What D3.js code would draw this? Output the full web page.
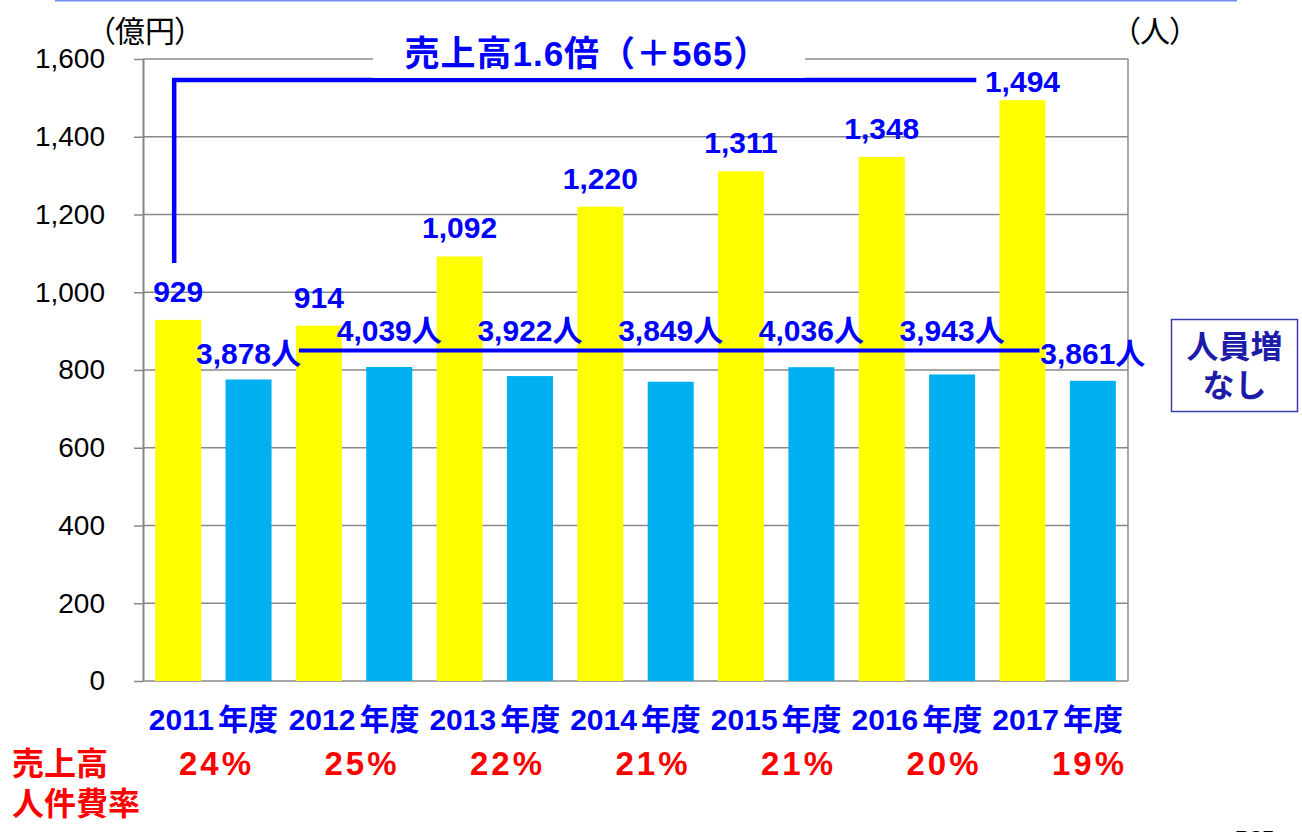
<!DOCTYPE html>
<html>
<head>
<meta charset="utf-8">
<script src="https://cdn.jsdelivr.net/npm/d3@7"></script>
<style>
  body { margin: 0; background: #fff; }
  text { font-family: "Liberation Sans", "Noto Sans CJK JP", sans-serif; }
</style>
</head>
<body>
<div class="container"></div>
<script>
// data
const years = ["2011", "2012", "2013", "2014", "2015", "2016", "2017"];
const sales = [929, 914, 1092, 1220, 1311, 1348, 1494]; // 億円
const staff = [3878, 4039, 3922, 3849, 4036, 3943, 3861]; // 人
const laborRatio = [24, 25, 22, 21, 21, 20, 19]; // 売上高人件費率 %
const salesTicks = [0, 200, 400, 600, 800, 1000, 1200, 1400, 1600];
const staffMax = 8000;

// annotation levels (in 億円 units)
const BRACKET_TOP = 1546;
const BRACKET_BOTTOM = 1075;
const STAFF_LINE = 850;

const WIDTH = 1302;
const HEIGHT = 832;
const MARGIN = { top: 59, right: 174, bottom: 151, left: 143 };
const BLUE = "#0000ff";
const GRID = "#888888";

const svg = d3
  .select(".container")
  .append("svg")
  .attr("width", WIDTH)
  .attr("height", HEIGHT)
  .attr("viewBox", [0, 0, WIDTH, HEIGHT]);

const x0 = d3
  .scaleBand()
  .domain(years)
  .range([MARGIN.left, WIDTH - MARGIN.right]);
const x1 = d3
  .scaleBand()
  .domain(["sales", "staff"])
  .range([0, x0.bandwidth()])
  .paddingInner(0.346)
  .paddingOuter(0.173);
const bw = x1.bandwidth();

const ySales = d3
  .scaleLinear()
  .domain([0, 1600])
  .range([HEIGHT - MARGIN.bottom, MARGIN.top]);
const yStaff = d3
  .scaleLinear()
  .domain([0, staffMax])
  .range([HEIGHT - MARGIN.bottom, MARGIN.top]);

const rows = years.map((year, i) => ({
  year,
  sales: sales[i],
  staff: staff[i],
  ratio: laborRatio[i],
}));

// top page rule
svg
  .append("rect")
  .attr("x", 55)
  .attr("y", 0)
  .attr("width", 1182)
  .attr("height", 1.5)
  .attr("fill", "#6d8ff3");

// gridlines + right border
svg
  .append("g")
  .attr("stroke", GRID)
  .attr("stroke-width", 1.5)
  .selectAll("line")
  .data(salesTicks)
  .join("line")
  .attr("x1", MARGIN.left)
  .attr("x2", WIDTH - MARGIN.right)
  .attr("y1", (d) => ySales(d))
  .attr("y2", (d) => ySales(d));
svg
  .append("line")
  .attr("x1", WIDTH - MARGIN.right)
  .attr("x2", WIDTH - MARGIN.right)
  .attr("y1", ySales(1600))
  .attr("y2", ySales(0))
  .attr("stroke", GRID)
  .attr("stroke-width", 1.5);

// bars
const groups = svg
  .append("g")
  .selectAll("g")
  .data(rows)
  .join("g")
  .attr("transform", (d) => `translate(${x0(d.year)},0)`);
groups
  .append("rect")
  .attr("x", x1("sales"))
  .attr("y", (d) => ySales(d.sales))
  .attr("width", bw)
  .attr("height", (d) => ySales(0) - ySales(d.sales))
  .attr("fill", "#ffff00");
groups
  .append("rect")
  .attr("x", x1("staff"))
  .attr("y", (d) => yStaff(d.staff))
  .attr("width", bw)
  .attr("height", (d) => yStaff(0) - yStaff(d.staff))
  .attr("fill", "#00b0f0");

// left axis
const yAxis = (g) =>
  g
    .attr("transform", `translate(${MARGIN.left},0)`)
    .call(
      d3
        .axisLeft(ySales)
        .tickValues(salesTicks)
        .tickFormat(d3.format(","))
        .tickSize(9)
        .tickSizeOuter(0)
        .tickPadding(29)
    )
    .call((g) => g.select(".domain").attr("stroke", GRID).attr("stroke-width", 2))
    .call((g) => g.selectAll(".tick line").attr("stroke", GRID).attr("stroke-width", 1.5))
    .call((g) =>
      g
        .selectAll(".tick text")
        .attr("font-size", 28)
        .attr("font-family", null)
        .attr("fill", "#000")
    );
svg.append("g").call(yAxis);

// unit labels
svg
  .append("text")
  .attr("x", 100)
  .attr("y", 42)
  .attr("font-size", 30)
  .style("font-feature-settings", '"palt"')
  .text("（億円）");
svg
  .append("text")
  .attr("x", 1125)
  .attr("y", 42)
  .attr("font-size", 30)
  .style("font-feature-settings", '"palt"')
  .text("（人）");

// sales growth bracket
const bracketL = x0(years[0]) + x1("sales") + bw / 2 - 4;
const bracketR = x0(years[years.length - 1]) - 11;
svg
  .append("path")
  .attr("d", `M${bracketL},${ySales(BRACKET_BOTTOM)}V${ySales(BRACKET_TOP)}H${bracketR}`)
  .attr("fill", "none")
  .attr("stroke", BLUE)
  .attr("stroke-width", 4.5);

svg
  .append("rect")
  .attr("x", 373)
  .attr("y", 40)
  .attr("width", 432)
  .attr("height", 38)
  .attr("fill", "#fff");
svg
  .append("text")
  .attr("x", 587)
  .attr("y", 66)
  .attr("text-anchor", "middle")
  .attr("font-size", 35)
  .attr("font-weight", "bold")
  .attr("letter-spacing", 1)
  .attr("fill", BLUE)
  .text("売上高1.6倍（＋565）");

// staff flat line
const lineY = ySales(STAFF_LINE);
svg
  .append("line")
  .attr("x1", x0(years[1]) + x1("sales") + 3)
  .attr("x2", x0(years[years.length - 1]) + x1("sales") + bw - 6)
  .attr("y1", lineY)
  .attr("y2", lineY)
  .attr("stroke", BLUE)
  .attr("stroke-width", 4);

// value labels
const fmt = d3.format(",");
svg
  .append("g")
  .attr("font-size", 30)
  .attr("font-weight", "bold")
  .attr("fill", BLUE)
  .attr("text-anchor", "middle")
  .selectAll("text")
  .data(rows)
  .join("text")
  .attr("x", (d) => x0(d.year) + x1("sales") + bw / 2)
  .attr("y", (d) => Math.max(ySales(d.sales) - 18, ySales(1600) + 33))
  .text((d) => fmt(d.sales));

svg
  .append("g")
  .attr("font-size", 30)
  .attr("font-weight", "bold")
  .attr("fill", BLUE)
  .attr("text-anchor", "middle")
  .selectAll("text")
  .data(rows)
  .join("text")
  .attr("x", (d) => x0(d.year) + x1("staff") + bw / 2)
  .attr("y", (d, i) => (i === 0 || i === rows.length - 1 ? lineY + 13 : lineY - 10))
  .text((d) => fmt(d.staff) + "人");

// staff note box
svg
  .append("rect")
  .attr("x", 1171.5)
  .attr("y", 319.5)
  .attr("width", 126)
  .attr("height", 92)
  .attr("fill", "#fff")
  .attr("stroke", "#3b3bb3")
  .attr("stroke-width", 1.5);
svg
  .append("g")
  .attr("font-size", 32)
  .attr("font-weight", "bold")
  .attr("fill", "#1c1ca8")
  .attr("text-anchor", "middle")
  .selectAll("text")
  .data(["人員増", "なし"])
  .join("text")
  .attr("x", 1234.5)
  .attr("y", (d, i) => 358 + i * 39)
  .text((d) => d);

// x labels
const xLabels = svg
  .append("g")
  .attr("font-size", 30)
  .attr("font-weight", "bold")
  .attr("fill", BLUE)
  .attr("text-anchor", "middle")
  .selectAll("text")
  .data(years)
  .join("text")
  .attr("x", (d) => x0(d) + x0.bandwidth() / 2)
  .attr("y", 730);
xLabels.append("tspan").text((d) => d);
xLabels.append("tspan").attr("dx", 4).text("年度");

// labor cost ratio row
const xRatio = d3.scalePoint().domain(years).range([215, 1088]);
svg
  .append("g")
  .attr("font-size", 32)
  .attr("font-weight", "bold")
  .attr("fill", "#ff0000")
  .selectAll("text")
  .data(["売上高", "人件費率"])
  .join("text")
  .attr("x", 12)
  .attr("y", (d, i) => 775 + i * 40)
  .text((d) => d);
svg
  .append("g")
  .attr("font-size", 33)
  .attr("font-weight", "bold")
  .attr("fill", "#ff0000")
  .attr("text-anchor", "middle")
  .attr("letter-spacing", 3)
  .selectAll("text")
  .data(rows)
  .join("text")
  .attr("x", (d) => xRatio(d.year) + 1.5)
  .attr("y", 775)
  .text((d) => d.ratio + "%");

// page number (cut off at bottom, as in the source slide)
svg
  .append("text")
  .attr("x", 1235)
  .attr("y", 846)
  .attr("font-size", 22)
  .attr("font-weight", "bold")
  .text("P25");
</script>
</body>
</html>
